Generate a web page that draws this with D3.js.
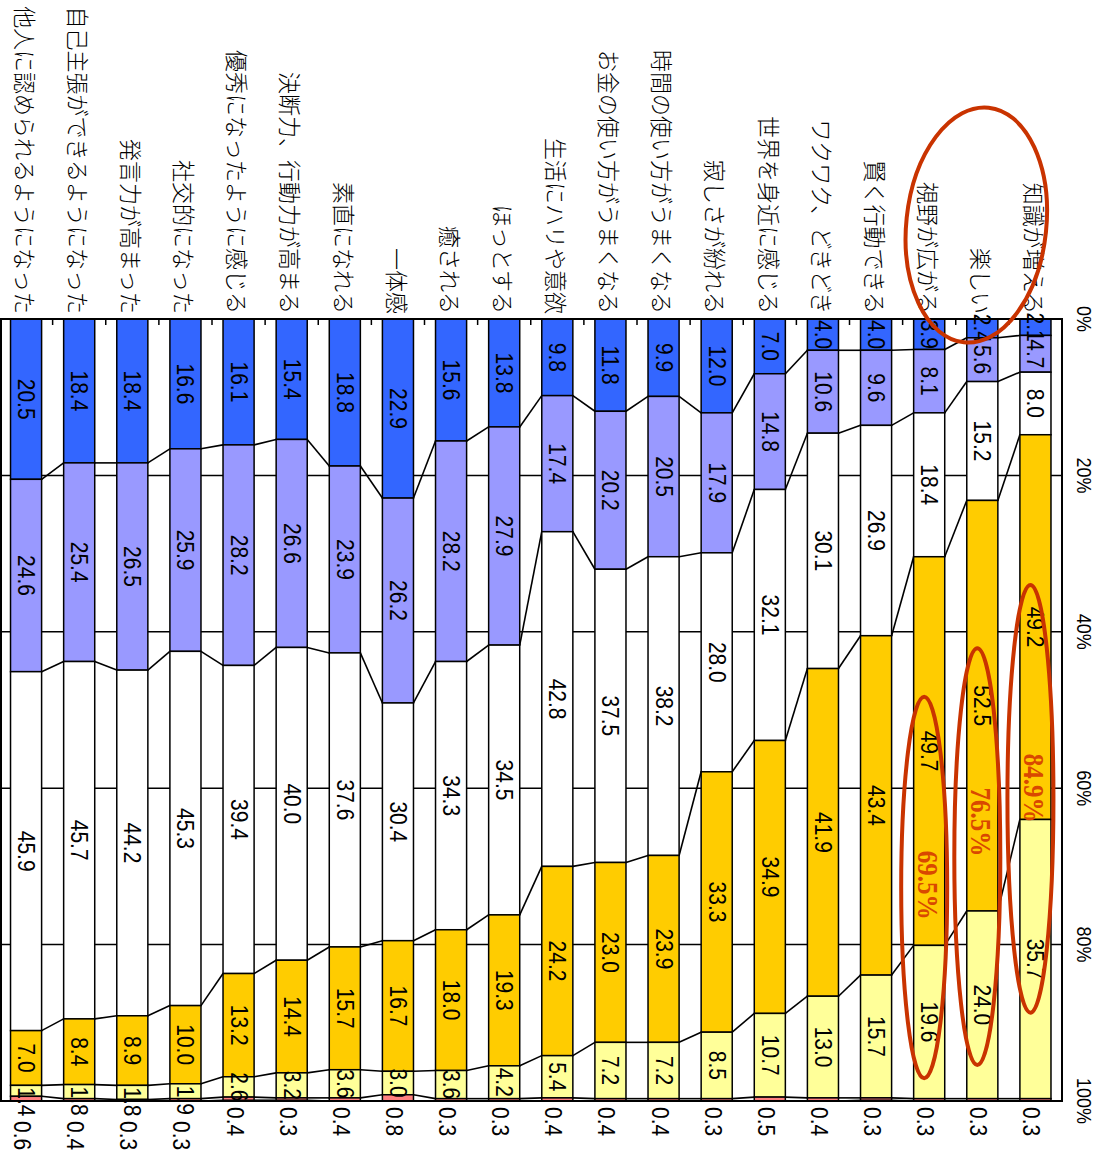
<!DOCTYPE html>
<html>
<head>
<meta charset="utf-8">
<script src="https://cdn.jsdelivr.net/npm/d3@7"></script>
<style>
  body { margin: 0; background: #fff; }
  svg { display: block; }
</style>
</head>
<body>
<svg id="chart" width="1102" height="1151"></svg>
<script>
// Categories, listed from the rightmost bar to the leftmost
const categories = [
  "知識が増える", "楽しい", "視野が広がる", "賢く行動できる", "ワクワク、どきどき",
  "世界を身近に感じる", "寂しさが紛れる", "時間の使い方がうまくなる", "お金の使い方がうまくなる",
  "生活にハリや意欲", "ほっとする", "癒される", "一体感", "素直になれる",
  "決断力、行動力が高まる", "優秀になったように感じる", "社交的になった", "発言力が高まった",
  "自己主張ができるようになった", "他人に認められるようになった"
];

// Stacked shares (%), one array per segment, in category order
const seriesBlue   = [2.1, 2.4, 3.9, 4.0, 4.0, 7.0, 12.0, 9.9, 11.8, 9.8, 13.8, 15.6, 22.9, 18.8, 15.4, 16.1, 16.6, 18.4, 18.4, 20.5];
const seriesPurple = [4.7, 5.6, 8.1, 9.6, 10.6, 14.8, 17.9, 20.5, 20.2, 17.4, 27.9, 28.2, 26.2, 23.9, 26.6, 28.2, 25.9, 26.5, 25.4, 24.6];
const seriesWhite  = [8.0, 15.2, 18.4, 26.9, 30.1, 32.1, 28.0, 38.2, 37.5, 42.8, 34.5, 34.3, 30.4, 37.6, 40.0, 39.4, 45.3, 44.2, 45.7, 45.9];
const seriesGold   = [49.2, 52.5, 49.7, 43.4, 41.9, 34.9, 33.3, 23.9, 23.0, 24.2, 19.3, 18.0, 16.7, 15.7, 14.4, 13.2, 10.0, 8.9, 8.4, 7.0];
const seriesYellow = [35.7, 24.0, 19.6, 15.7, 13.0, 10.7, 8.5, 7.2, 7.2, 5.4, 4.2, 3.6, 3.0, 3.6, 3.2, 2.6, 1.9, 1.8, 1.8, 1.4];
const seriesPink   = [0.3, 0.3, 0.3, 0.3, 0.4, 0.5, 0.3, 0.4, 0.4, 0.4, 0.3, 0.3, 0.8, 0.4, 0.3, 0.4, 0.3, 0.3, 0.4, 0.6];

const seriesKeys = ["blue", "purple", "white", "gold", "yellow", "pink"];
const seriesColors = ["#3366FF", "#9999FF", "#FFFFFF", "#FFCC00", "#FFFF99", "#FF8080"];

// Value axis
const valueTicks = [0, 20, 40, 60, 80, 100];
const tickLabels = ["0%", "20%", "40%", "60%", "80%", "100%"];

// Highlighted totals (gold + yellow) for the three leading items
const highlightCats = ["知識が増える", "楽しい", "視野が広がる"];
const highlightTotals = ["84.9%", "76.5%", "69.5%"];

// ---------------------------------------------------------------
const seriesArrays = [seriesBlue, seriesPurple, seriesWhite, seriesGold, seriesYellow, seriesPink];
const rows = categories.map((c, i) => {
  const r = { cat: c };
  seriesKeys.forEach((k, j) => { r[k] = seriesArrays[j][i]; });
  return r;
});

const svg = d3.select("#chart");
const plot = { left: -0.5, right: 1062, top: 319, bottom: 1101 };

const x = d3.scaleBand()
  .domain(categories.slice().reverse())
  .range([plot.left, plot.right])
  .paddingInner(0.415)
  .paddingOuter(0.2075);

const y = d3.scaleLinear().domain([0, 100]).range([plot.top, plot.bottom]);

const stacked = d3.stack().keys(seriesKeys)(rows);
const STRETCH = 1.15;
const fmt = d3.format(".1f");
const sansFont = "'Liberation Sans', Arial, sans-serif";
const cjkFont = "'Noto Sans CJK JP', 'Noto Sans', sans-serif";

// Horizontal gridlines
svg.append("g")
  .selectAll("line")
  .data(valueTicks.filter(v => v > 0 && v < 100))
  .join("line")
  .attr("x1", plot.left).attr("x2", plot.right)
  .attr("y1", d => y(d)).attr("y2", d => y(d))
  .attr("stroke", "#000").attr("stroke-width", 1.5);

// Category ticks at band boundaries along the top edge
const step = x.step();
svg.append("g")
  .selectAll("line")
  .data(d3.range(1, categories.length))
  .join("line")
  .attr("x1", i => plot.left + i * step).attr("x2", i => plot.left + i * step)
  .attr("y1", plot.top).attr("y2", plot.top + 6)
  .attr("stroke", "#000").attr("stroke-width", 1.5);

// Series lines joining the stack boundaries of neighbouring bars
const order = x.domain();
const byCat = new Map(rows.map(r => [r.cat, r]));
const cumAt = (cat, k) => {
  const r = byCat.get(cat);
  let s = 0;
  for (let j = 0; j <= k; j++) s += r[seriesKeys[j]];
  return s;
};
const linkData = [];
for (let k = 0; k < seriesKeys.length; k++) {
  for (let i = 0; i < order.length - 1; i++) {
    linkData.push({
      x1: x(order[i]) + x.bandwidth(), y1: y(Math.min(cumAt(order[i], k), 100)),
      x2: x(order[i + 1]), y2: y(Math.min(cumAt(order[i + 1], k), 100))
    });
  }
}
svg.append("g")
  .selectAll("line")
  .data(linkData)
  .join("line")
  .attr("x1", d => d.x1).attr("y1", d => d.y1)
  .attr("x2", d => d.x2).attr("y2", d => d.y2)
  .attr("stroke", "#000").attr("stroke-width", 1.6);

// Stacked bars
const layers = svg.append("g")
  .selectAll("g")
  .data(stacked)
  .join("g")
  .attr("fill", (d, i) => seriesColors[i]);

layers.selectAll("rect")
  .data(d => d)
  .join("rect")
  .attr("x", d => x(d.data.cat))
  .attr("width", x.bandwidth())
  .attr("y", d => y(d[0]))
  .attr("height", d => Math.max(0, y(Math.min(d[1], 100)) - y(d[0])))
  .attr("stroke", "#000")
  .attr("stroke-width", 1.5);

// Plot frame
svg.append("rect")
  .attr("x", plot.left + 1.5).attr("y", plot.top)
  .attr("width", plot.right - plot.left - 1.5).attr("height", plot.bottom - plot.top)
  .attr("fill", "none").attr("stroke", "#000").attr("stroke-width", 2);

// Rotated text helper
function rotText(g, tx, ty, str, opts) {
  return g.append("text")
    .attr("transform", `translate(${tx},${ty}) rotate(90) scale(1,${opts.stretch || STRETCH})`)
    .attr("text-anchor", opts.anchor || "middle")
    .attr("dominant-baseline", "central")
    .attr("font-family", opts.family || sansFont)
    .attr("font-size", opts.size || 21)
    .attr("font-weight", opts.weight || "normal")
    .attr("fill", opts.fill || "#000")
    .text(str);
}

// Segment value labels
const labelG = svg.append("g");
stacked.forEach((layer, k) => {
  layer.forEach(d => {
    const cx = x(d.data.cat) + x.bandwidth() / 2;
    const v = d.data[seriesKeys[k]];
    if (k < 4) {
      rotText(labelG, cx, (y(d[0]) + y(d[1])) / 2, fmt(v), {});
    } else if (k === 4) {
      if (v < 2.5) rotText(labelG, cx, y(d[0]) + 2, fmt(v), { anchor: "start" });
      else rotText(labelG, cx, (y(d[0]) + y(d[1])) / 2, fmt(v), {});
    } else {
      const smallPrev = d.data.yellow < 2.5;
      rotText(labelG, cx - 4, plot.bottom + (smallPrev ? 20 : 6), fmt(v), { anchor: "start" });
    }
  });
});

// Category labels above the plot
const catG = svg.append("g");
categories.forEach(c => {
  rotText(catG, x(c) + x.bandwidth() / 2, plot.top - 5, c, {
    anchor: "end", family: cjkFont, size: 22, weight: 300, stretch: 1.05
  });
});

// Value axis labels
const axisG = svg.append("g");
valueTicks.forEach((v, i) => {
  rotText(axisG, 1084, y(v), tickLabels[i], { size: 18 });
});

// Highlight annotations
const hiPos = [60.0, 64.3, 72.4];
const annG = svg.append("g");
highlightCats.forEach((c, i) => {
  rotText(annG, x(c) + x.bandwidth() / 2 - 2, y(hiPos[i]), highlightTotals[i], {
    family: "'Liberation Serif', 'Times New Roman', serif", size: 25, weight: "bold", fill: "#D94800"
  });
});

const ringColor = "#C93300";
const rings = [[34.0, 88.7], [42.1, 95.4], [48.3, 97.1]];
highlightCats.forEach((c, i) => {
  const [a, b] = rings[i];
  annG.append("ellipse")
    .attr("cx", x(c) + x.bandwidth() / 2 - 5)
    .attr("cy", (y(a) + y(b)) / 2)
    .attr("rx", 23)
    .attr("ry", (y(b) - y(a)) / 2)
    .attr("fill", "none").attr("stroke", ringColor).attr("stroke-width", 4);
});

// Ring around the three leading category names
const bigCx = x("楽しい") + x.bandwidth() / 2 - 6;
annG.append("ellipse")
  .attr("transform", `translate(${bigCx},${plot.top - 94}) rotate(6)`)
  .attr("rx", 70).attr("ry", 118)
  .attr("fill", "none").attr("stroke", ringColor).attr("stroke-width", 4);
</script>
</body>
</html>
